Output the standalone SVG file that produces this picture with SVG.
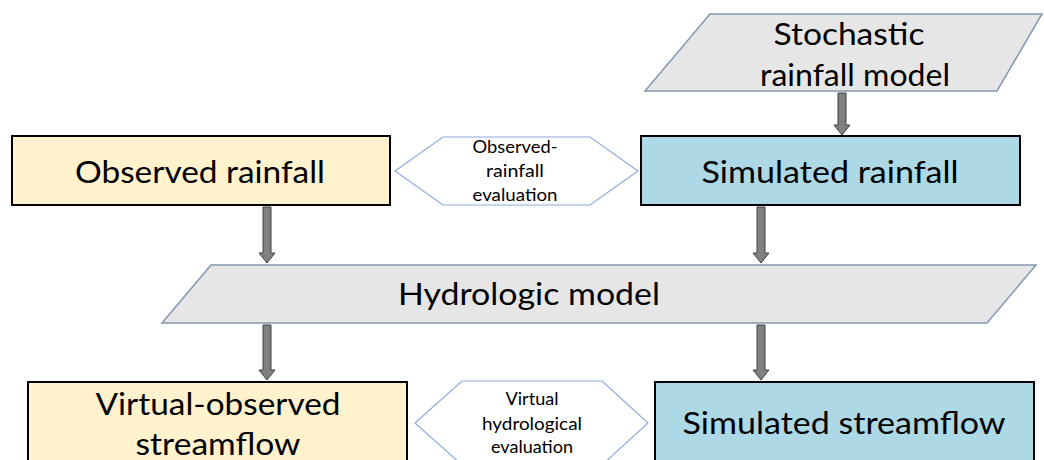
<svg xmlns="http://www.w3.org/2000/svg" width="1044" height="460" viewBox="0 0 1044 460">
<style>
.t{font-family:Lato,"Open Sans","Liberation Sans",sans-serif;fill:#000;text-anchor:middle}
.big{font-size:31px}
.sm{font-size:17.5px}
.para{fill:#e7e6e6;stroke:#8497b0;stroke-width:1.5}
.hex{fill:#fff;stroke:#8faadc;stroke-width:1.2}
.obs{fill:#fff2cc;stroke:#000;stroke-width:2}
.sim{fill:#add8e6;stroke:#000;stroke-width:2}
.arr{fill:#808080;stroke:#404040;stroke-width:1}
</style>
<rect width="1044" height="460" fill="#fff"/>
<g id="stochastic">
<polygon class="para" points="710,14 1042,14 997,91 645,91"/>
<text class="t big" x="849" y="45" textLength="151" lengthAdjust="spacingAndGlyphs">Stochastic</text>
<text class="t big" x="855" y="86" textLength="190" lengthAdjust="spacingAndGlyphs">rainfall model</text>
</g>
<g id="observed-rainfall">
<rect class="obs" x="12" y="136" width="378" height="69"/>
<text class="t big" x="200" y="183" textLength="250" lengthAdjust="spacingAndGlyphs">Observed rainfall</text>
</g>
<g id="simulated-rainfall">
<rect class="sim" x="641" y="136" width="379" height="69"/>
<text class="t big" x="830" y="183" textLength="257" lengthAdjust="spacingAndGlyphs">Simulated rainfall</text>
</g>
<g id="observed-rainfall-evaluation">
<polygon class="hex" points="395,171 443,137 590,137 638,171 590,205 443,205"/>
<text class="t sm" x="515" y="153" textLength="85" lengthAdjust="spacingAndGlyphs">Observed-</text>
<text class="t sm" x="515" y="177" textLength="58" lengthAdjust="spacingAndGlyphs">rainfall</text>
<text class="t sm" x="515" y="201" textLength="85" lengthAdjust="spacingAndGlyphs">evaluation</text>
</g>
<g id="hydrologic-model">
<polygon class="para" points="211,265 1036,265 987,323 162,323"/>
<text class="t big" x="529" y="305" textLength="262" lengthAdjust="spacingAndGlyphs">Hydrologic model</text>
</g>
<g id="virtual-observed-streamflow">
<rect class="obs" x="28" y="382" width="379" height="90"/>
<text class="t big" x="218" y="415" textLength="245" lengthAdjust="spacingAndGlyphs">Virtual-observed</text>
<text class="t big" x="218" y="455" textLength="165" lengthAdjust="spacingAndGlyphs">streamflow</text>
</g>
<g id="simulated-streamflow">
<rect class="sim" x="655" y="382" width="379" height="90"/>
<text class="t big" x="844" y="434" textLength="323" lengthAdjust="spacingAndGlyphs">Simulated streamflow</text>
</g>
<g id="virtual-hydrological-evaluation">
<polygon class="hex" points="415,423 462,381 602,381 648,423 602,465 462,465"/>
<text class="t sm" x="532" y="405" textLength="53" lengthAdjust="spacingAndGlyphs">Virtual</text>
<text class="t sm" x="532" y="430" textLength="100" lengthAdjust="spacingAndGlyphs">hydrological</text>
<text class="t sm" x="532" y="453" textLength="82" lengthAdjust="spacingAndGlyphs">evaluation</text>
</g>
<g id="connectors">
<path class="arr" d="M838,93 H846 V125 H850 L842,135 L834,125 H838 Z"/>
<path class="arr" d="M263,207 H271 V253 H275 L267,263 L259,253 H263 Z"/>
<path class="arr" d="M757,207 H765 V253 H769 L761,263 L753,253 H757 Z"/>
<path class="arr" d="M263,325 H271 V370 H275 L267,380 L259,370 H263 Z"/>
<path class="arr" d="M757,325 H765 V370 H769 L761,380 L753,370 H757 Z"/>
</g>
</svg>
